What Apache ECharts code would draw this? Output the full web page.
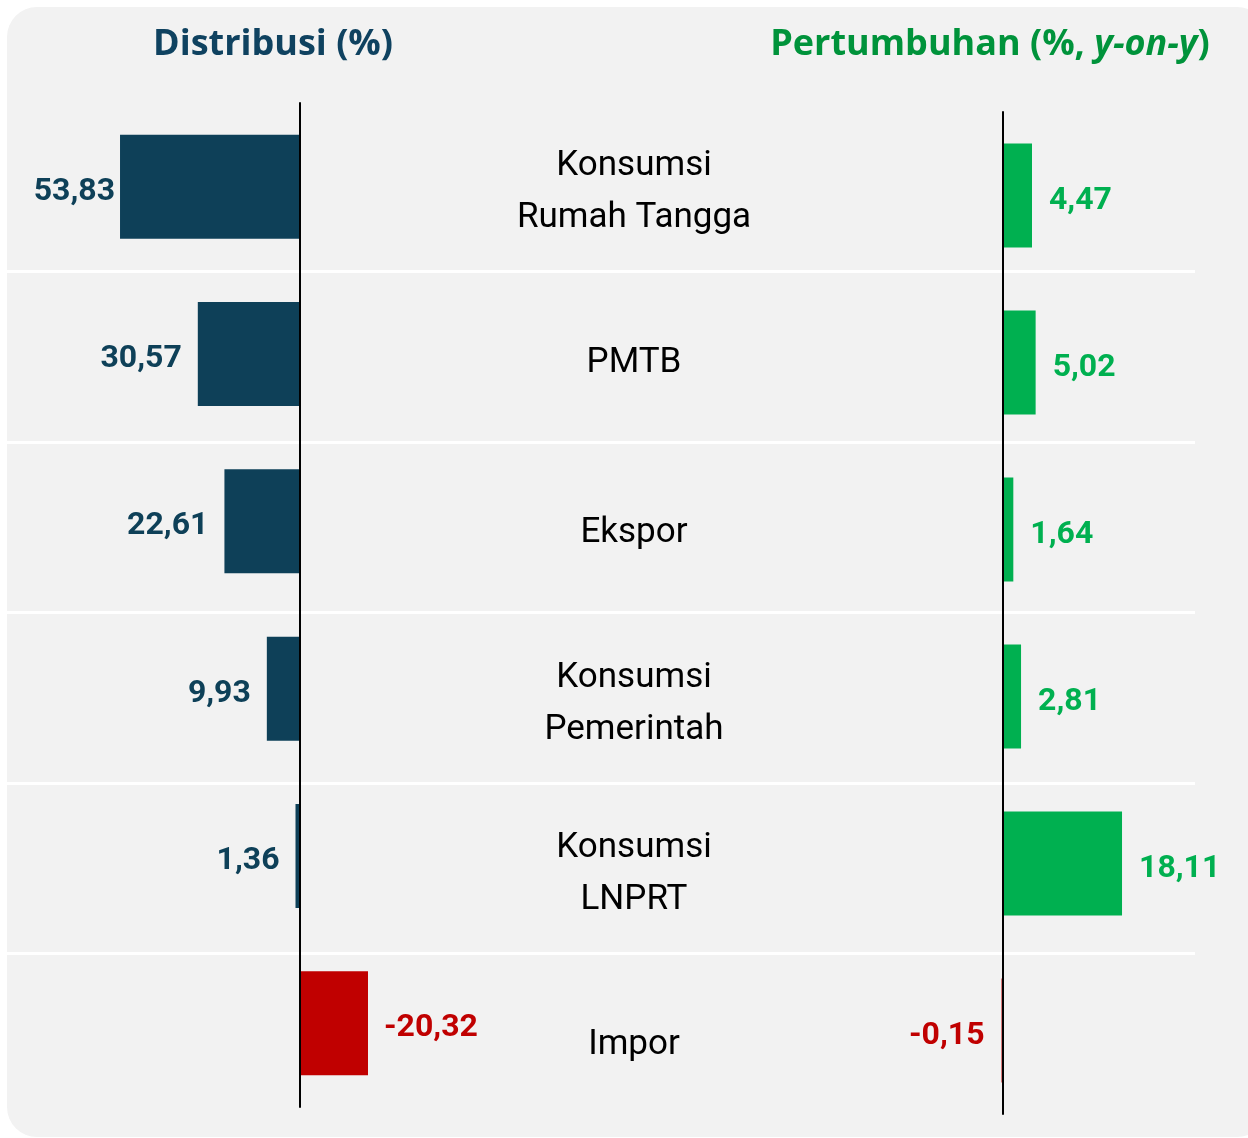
<!DOCTYPE html>
<html>
<head>
<meta charset="utf-8">
<script src="https://cdn.jsdelivr.net/npm/echarts@6/dist/echarts.min.js"></script>
<style>
  html, body { margin: 0; padding: 0; background: #ffffff; }
  #main { width: 1248px; height: 1138px; }
</style>
</head>
<body>
<div id="main"></div>
<script>
// komponen PDB menurut pengeluaran
const categories = ['Konsumsi\nRumah Tangga', 'PMTB', 'Ekspor', 'Konsumsi\nPemerintah', 'Konsumsi\nLNPRT', 'Impor']
const distribusi = [53.83, 30.57, 22.61, 9.93, 1.36, -20.32]
const pertumbuhan = [4.47, 5.02, 1.64, 2.81, 18.11, -0.15]

const NARROW = "Roboto, 'Liberation Sans', sans-serif"
const NAVY = '#0e4058'
const GREEN = '#00b050'
const RED = '#c00000'

const fmt = v => v.toFixed(2).replace('.', ',')

let chart = echarts.init(document.getElementById('main'))

let distData = distribusi.map((v, i) => ({
  value: v,
  itemStyle: { color: v < 0 ? RED : NAVY },
  label: {
    position: v < 0 ? 'right' : 'left',
    distance: i === 0 ? 5 : 16,
    color: v < 0 ? RED : NAVY
  }
}))

let growData = pertumbuhan.map(v => ({
  value: v,
  itemStyle: { color: v < 0 ? RED : GREEN },
  label: {
    position: v < 0 ? 'left' : 'right',
    distance: 17,
    color: v < 0 ? RED : GREEN
  }
}))

let hiddenValueAxis = {
  type: 'value',
  axisLine: { show: false },
  axisTick: { show: false },
  axisLabel: { show: false },
  splitLine: { show: false }
}

let option = {
  animation: false,
  graphic: [
    {
      type: 'rect',
      z: -100,
      shape: { x: 7, y: 7, width: 1260, height: 1130, r: 30 },
      style: { fill: '#f2f2f2' }
    },
    {
      type: 'text',
      x: 273,
      y: 45,
      style: {
        text: 'Distribusi (%)',
        fill: '#0f4260',
        font: "bold 36px 'Open Sans', sans-serif",
        textAlign: 'center',
        textVerticalAlign: 'middle'
      }
    },
    {
      type: 'text',
      x: 990,
      y: 45,
      style: {
        text: '{a|Pertumbuhan (%, }{b|y-on-y}{a|)}',
        textAlign: 'center',
        textVerticalAlign: 'middle',
        rich: {
          a: { fill: '#00933b', fontFamily: 'Open Sans', fontWeight: 'bold', fontSize: 36 },
          b: { fill: '#00933b', fontFamily: 'Open Sans', fontWeight: 'bold', fontStyle: 'italic', fontSize: 36 }
        }
      }
    }
  ],
  grid: [
    { left: 32.5, top: 103, width: 468.2, height: 1004 },
    { left: 936.5, top: 112, width: 264, height: 1002 },
    { left: 7, top: 101, width: 1188, height: 1023 },
    { left: 7, top: 107, width: 1188, height: 1023 }
  ],
  xAxis: [
    Object.assign({ gridIndex: 0, min: -60, max: 80, inverse: true }, hiddenValueAxis),
    Object.assign({ gridIndex: 1, min: -10, max: 30 }, hiddenValueAxis),
    Object.assign({ gridIndex: 2, min: 0, max: 1 }, hiddenValueAxis),
    Object.assign({ gridIndex: 3, min: 0, max: 1 }, hiddenValueAxis)
  ],
  yAxis: [
    {
      gridIndex: 0,
      type: 'category',
      data: categories,
      inverse: true,
      z: 3,
      axisLine: { onZero: true, lineStyle: { color: '#000', width: 2 } },
      axisTick: { show: false },
      axisLabel: { show: false }
    },
    {
      gridIndex: 1,
      type: 'category',
      data: categories,
      inverse: true,
      z: 3,
      axisLine: { onZero: true, lineStyle: { color: '#000', width: 2 } },
      axisTick: { show: false },
      axisLabel: { show: false }
    },
    {
      // garis pemisah baris
      gridIndex: 2,
      type: 'category',
      data: categories,
      inverse: true,
      z: 0,
      axisLine: { show: false },
      axisTick: { show: false },
      axisLabel: { show: false },
      splitLine: {
        show: true,
        showMinLine: false,
        showMaxLine: false,
        lineStyle: { color: '#ffffff', width: 3 }
      }
    },
    {
      // nama komponen di tengah
      gridIndex: 3,
      type: 'category',
      data: categories,
      inverse: true,
      z: 1,
      axisLine: { show: false },
      axisTick: { show: false },
      splitLine: { show: false },
      axisLabel: {
        inside: true,
        align: 'center',
        margin: 627,
        color: '#000000',
        fontFamily: NARROW,
        fontSize: 35,
        lineHeight: 52
      }
    }
  ],
  series: [
    {
      name: 'Distribusi',
      type: 'bar',
      xAxisIndex: 0,
      yAxisIndex: 0,
      barWidth: 104,
      data: distData,
      label: {
        show: true,
        fontFamily: NARROW,
        fontWeight: 'bold',
        fontSize: 32,
        offset: [0, 5],
        formatter: p => fmt(p.value)
      }
    },
    {
      name: 'Pertumbuhan',
      type: 'bar',
      xAxisIndex: 1,
      yAxisIndex: 1,
      barWidth: 104,
      data: growData,
      label: {
        show: true,
        fontFamily: NARROW,
        fontWeight: 'bold',
        fontSize: 32,
        offset: [0, 5],
        formatter: p => fmt(p.value)
      }
    }
  ]
}

option && chart.setOption(option)
</script>
</body>
</html>
